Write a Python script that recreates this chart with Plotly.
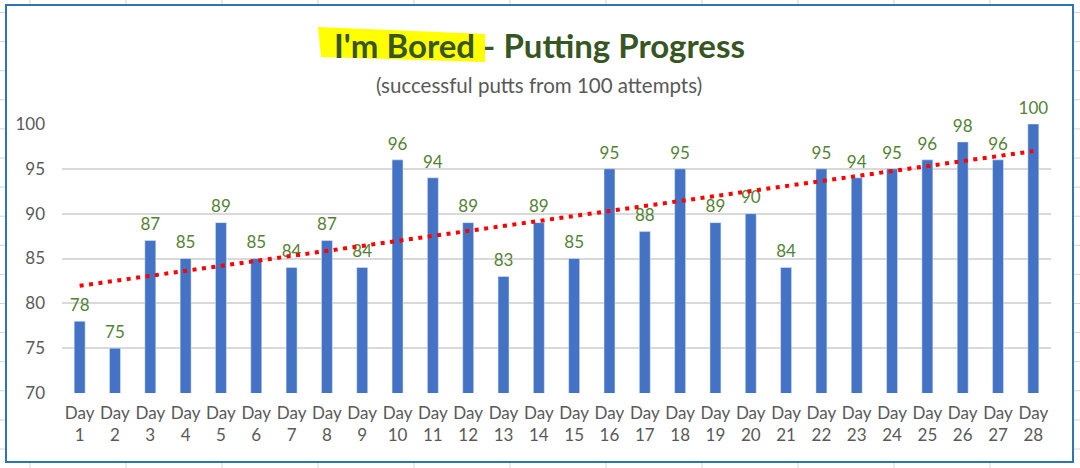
import numpy as np
import plotly.graph_objects as go

days = [f"Day<br>{i}" for i in range(1, 29)]
putts = [78, 75, 87, 85, 89, 85, 84, 87, 84, 96, 94, 89, 83, 89,
         85, 95, 88, 95, 89, 90, 84, 95, 94, 95, 96, 98, 96, 100]
y_ticks = [70, 75, 80, 85, 90, 95, 100]

W, H = 1080, 468
ML, MR, MT, MB = 62, 29, 124, 75
PW, PH = W - ML - MR, H - MT - MB


def px(x):
    return (x - ML) / PW


def py(y):
    return 1 - (y - MT) / PH


# linear trendline like Excel's
n = np.arange(1, len(putts) + 1)
slope, icpt = np.polyfit(n, putts, 1)
trend = slope * n + icpt

FONT = "Lato"

fig = go.Figure()
fig.add_trace(go.Bar(x=days, y=putts, marker_color="#4472C4"))
# value labels (invisible markers push the text up off the bar)
fig.add_trace(go.Scatter(
    x=days, y=putts, mode="markers+text", text=putts,
    textposition="top center", cliponaxis=False,
    marker=dict(size=8, color="rgba(0,0,0,0)"),
    textfont=dict(color="#548235", size=17, family=FONT),
))
fig.add_trace(go.Scatter(
    x=days, y=trend, mode="lines",
    line=dict(color="#FF0000", width=4, dash="4px,5.5px"),
))

shapes = []
# spreadsheet cell lines around the chart object
for cx in range(30, W, 96):
    shapes.append(dict(type="line", xref="paper", yref="paper",
                       x0=px(cx), x1=px(cx), y0=py(0), y1=py(5),
                       line=dict(color="#D4D4D4", width=1)))
    shapes.append(dict(type="line", xref="paper", yref="paper",
                       x0=px(cx), x1=px(cx), y0=py(462), y1=py(H),
                       line=dict(color="#D4D4D4", width=1)))
for ry in np.arange(12.5, H, 29.1):
    shapes.append(dict(type="line", xref="paper", yref="paper",
                       x0=px(0), x1=px(6), y0=py(ry), y1=py(ry),
                       line=dict(color="#D4D4D4", width=1)))
    shapes.append(dict(type="line", xref="paper", yref="paper",
                       x0=px(1073), x1=px(W), y0=py(ry), y1=py(ry),
                       line=dict(color="#D4D4D4", width=1)))
# chart border
shapes.append(dict(type="rect", xref="paper", yref="paper",
                   x0=px(6), x1=px(1073), y0=py(5), y1=py(462),
                   line=dict(color="#2E75B6", width=2)))
# highlighter behind "I'm Bored"
hl = [(318, 27), (485, 34), (485, 62), (321, 57)]
path = "M " + " L ".join(f"{px(a)},{py(b)}" for a, b in hl) + " Z"
shapes.append(dict(type="path", xref="paper", yref="paper", path=path,
                   fillcolor="#FFFF00", line=dict(width=0), layer="below"))

fig.update_layout(
    width=W, height=H,
    margin=dict(l=ML, r=MR, t=MT, b=MB),
    paper_bgcolor="white", plot_bgcolor="white",
    showlegend=False, bargap=0.69,
    font=dict(family=FONT, color="#595959", size=17),
    shapes=shapes,
    annotations=[
        dict(text="<b>I'm Bored - Putting Progress</b>", xref="paper", yref="paper",
             x=px(539), y=py(45), showarrow=False, yanchor="middle",
             font=dict(size=33, color="#375623", family=FONT)),
        dict(text="(successful putts from 100 attempts)", xref="paper", yref="paper",
             x=px(539), y=py(85), showarrow=False, yanchor="middle",
             font=dict(size=20.5, color="#595959", family=FONT)),
    ],
    xaxis=dict(range=[-0.5, len(days) - 0.5], showgrid=False, showline=False,
               ticks="", tickfont=dict(size=17), ticklabelstandoff=8),
    yaxis=dict(range=[70, 100], tickvals=y_ticks, showgrid=True,
               gridcolor="#D9D9D9", gridwidth=2, zeroline=False,
               ticks="", ticklabelstandoff=16, tickfont=dict(size=17)),
)

fig.write_html("out.html", config={"displayModeBar": False},
               post_script="document.body.style.margin='0';")
